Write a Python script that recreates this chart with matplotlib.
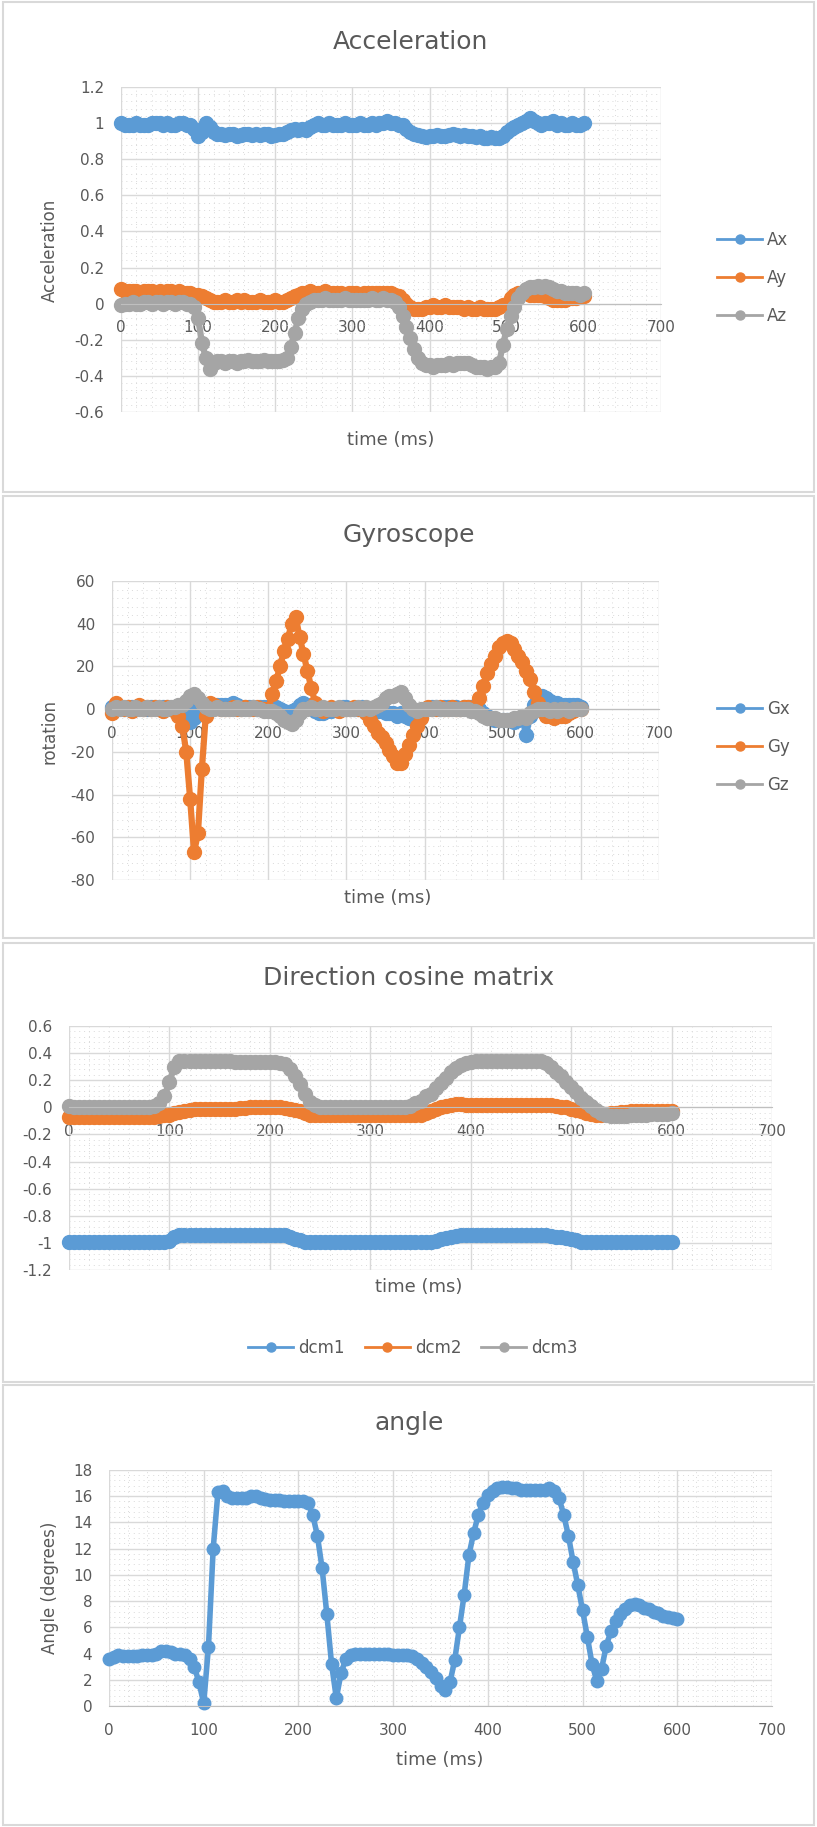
import matplotlib
matplotlib.use("Agg")
import matplotlib.pyplot as plt
from matplotlib.patches import Rectangle
from matplotlib.ticker import MultipleLocator, FuncFormatter

W, H = 817, 1827
plt.rcParams['font.family'] = ['DejaVu Sans']

# sample times, every 5 ms
time_ms = list(range(0, 601, 5))

# ---- Acceleration (rows of 10 samples = 50 ms each)
acc_x = [
    1.0, 0.99, 0.99, 0.99, 1.0, 0.99, 0.99, 0.99, 1.0, 1.0,
    1.0, 0.99, 1.0, 0.99, 0.99, 1.0, 1.0, 0.99, 0.99, 0.97,
    0.93, 0.95, 1.0, 0.98, 0.95, 0.94, 0.94, 0.935, 0.94, 0.94,
    0.93, 0.935, 0.94, 0.94, 0.935, 0.94, 0.935, 0.94, 0.94, 0.93,
    0.935, 0.94, 0.94, 0.95, 0.96, 0.97, 0.96, 0.97, 0.96, 0.98,
    0.99, 1.0, 0.99, 0.99, 1.0, 0.99, 0.99, 0.99, 1.0, 0.99,
    0.99, 0.99, 1.0, 0.99, 0.99, 1.0, 0.99, 1.0, 1.0, 1.01,
    1.0, 1.0, 0.99, 0.99, 0.97, 0.95, 0.94, 0.935, 0.93, 0.925,
    0.93, 0.93, 0.935, 0.93, 0.93, 0.935, 0.94, 0.935, 0.93, 0.935,
    0.93, 0.93, 0.925, 0.93, 0.92, 0.92, 0.925, 0.92, 0.915, 0.93,
    0.95, 0.97, 0.98, 0.99, 1.0, 1.01, 1.03, 1.01, 1.0, 0.99,
    1.0, 1.0, 1.01, 0.99, 1.0, 0.99, 0.99, 1.0, 0.99, 0.99,
    1.0]
acc_y = [
    0.08, 0.07, 0.07, 0.07, 0.07, 0.06, 0.07, 0.07, 0.07, 0.06,
    0.07, 0.06, 0.07, 0.07, 0.06, 0.07, 0.06, 0.06, 0.06, 0.05,
    0.05, 0.04, 0.03, 0.02, 0.01, 0.01, 0.01, 0.02, 0.01, 0.01,
    0.02, 0.01, 0.02, 0.01, 0.01, 0.01, 0.02, 0.01, 0.01, 0.01,
    0.02, 0.01, 0.01, 0.02, 0.03, 0.04, 0.05, 0.06, 0.06, 0.07,
    0.06, 0.06, 0.06, 0.07, 0.06, 0.06, 0.06, 0.06, 0.05, 0.06,
    0.06, 0.06, 0.05, 0.06, 0.06, 0.06, 0.06, 0.06, 0.06, 0.06,
    0.06, 0.05, 0.04, 0.02, 0.0, -0.02, -0.03, -0.03, -0.03, -0.02,
    -0.02, -0.01, -0.02, -0.02, -0.01, -0.02, -0.02, -0.02, -0.02, -0.03,
    -0.02, -0.03, -0.03, -0.02, -0.03, -0.03, -0.03, -0.03, -0.02, -0.01,
    0.0, 0.03, 0.05, 0.06, 0.06, 0.06, 0.05, 0.05, 0.05, 0.05,
    0.04, 0.03, 0.02, 0.02, 0.02, 0.02, 0.03, 0.03, 0.03, 0.04,
    0.04]
acc_z = [
    -0.01, 0.0, 0.0, 0.01, 0.0, 0.0, 0.01, 0.01, 0.0, 0.01,
    0.01, 0.0, 0.01, 0.01, 0.0, 0.01, 0.01, 0.0, 0.0, -0.02,
    -0.08, -0.22, -0.30, -0.36, -0.33, -0.32, -0.32, -0.33, -0.32, -0.32,
    -0.33, -0.32, -0.32, -0.31, -0.32, -0.32, -0.32, -0.31, -0.32, -0.32,
    -0.32, -0.32, -0.31, -0.30, -0.24, -0.16, -0.08, -0.03, 0.0, 0.01,
    0.02, 0.02, 0.02, 0.03, 0.02, 0.02, 0.02, 0.02, 0.03, 0.02,
    0.02, 0.02, 0.02, 0.02, 0.02, 0.03, 0.02, 0.02, 0.03, 0.02,
    0.02, 0.01, -0.02, -0.07, -0.13, -0.19, -0.25, -0.30, -0.33, -0.34,
    -0.34, -0.35, -0.34, -0.34, -0.34, -0.33, -0.34, -0.33, -0.33, -0.33,
    -0.33, -0.34, -0.35, -0.35, -0.35, -0.36, -0.35, -0.35, -0.33, -0.23,
    -0.14, -0.07, -0.02, 0.03, 0.06, 0.08, 0.09, 0.09, 0.10, 0.09,
    0.10, 0.09, 0.08, 0.07, 0.07, 0.06, 0.06, 0.06, 0.06, 0.05,
    0.06]

# ---- Gyroscope
gyro_x = [
    1, 2, 1, 0, 1, 1, 0, 1, 1, 0,
    1, 1, 0, 1, 1, 0, 1, 0, -1, -2,
    -6, -4, 1, 2, 2, 1, 1, 2, 2, 2,
    2, 3, 2, 1, 1, 1, 1, 0, 1, 1,
    1, 1, 1, 0, -1, -2, -1, 0, 2, 3,
    2, 1, -1, -2, -2, -1, -1, 0, 0, 1,
    1, 0, 0, 0, 1, 0, 0, 0, -1, -1,
    -2, -2, -2, -3, -2, -3, -4, -3, -2, -1,
    0, 0, 1, 1, 0, 1, 1, 1, 1, 0,
    1, 1, 1, 0, 0, -2, -3, -4, -5, -5,
    -5, -5, -5, -6, -5, -4, -12, -3, 2, 4,
    6, 5, 4, 3, 3, 2, 2, 2, 2, 2,
    1]
gyro_y = [
    -2, 3, 1, 0, 1, -1, 0, 2, 0, 1,
    0, 1, 0, -1, 1, 0, -1, -3, -8, -20,
    -42, -67, -58, -28, -3, 3, 2, 1, 0, 0,
    0, 1, 0, 0, 1, 0, 0, 1, 0, 0,
    0, 7, 13, 20, 27, 33, 40, 43, 34, 26,
    18, 10, 3, 0, -1, 0, 1, 0, -1, 0,
    0, 0, 1, 0, 0, -2, -5, -8, -11, -13,
    -16, -19, -22, -25, -25, -21, -17, -12, -8, -4,
    0, 1, 0, 0, 1, 0, 0, 1, 0, 0,
    1, 1, 0, 1, 5, 11, 17, 21, 25, 29,
    31, 32, 31, 28, 25, 22, 18, 14, 8, 3,
    -1, -3, -3, -4, -3, -3, -3, -2, -1, 0,
    0]
gyro_z = [
    0, 1, 0, 1, 0, 0, 1, 0, 0, 1,
    0, 0, 1, 0, 0, 1, 1, 2, 2, 4,
    6, 7, 5, 3, 1, 0, 0, 1, 0, 0,
    0, 0, 1, 0, 0, 0, 1, 0, 0, -1,
    -1, -1, -2, -3, -5, -6, -7, -5, -2, 0,
    0, 1, 0, 0, 1, 0, 0, 0, 1, 0,
    0, 0, 0, 1, 0, 1, 0, 1, 2, 3,
    5, 6, 6, 7, 8, 5, 2, 0, -1, 0,
    0, 0, 0, 1, 0, 0, 0, 0, 0, 0,
    0, 0, -1, -1, -2, -3, -4, -4, -4, -5,
    -5, -5, -5, -4, -4, -3, -4, -2, -1, 0,
    0, 0, -1, 0, -1, 0, 0, -1, 0, 0,
    0]

# ---- Direction cosine matrix
dcm1 = [
    -0.99, -0.99, -0.99, -0.99, -0.99, -0.99, -0.99, -0.99, -0.99, -0.99,
    -0.99, -0.99, -0.99, -0.99, -0.99, -0.99, -0.99, -0.99, -0.99, -0.99,
    -0.985, -0.96, -0.945, -0.94, -0.94, -0.94, -0.94, -0.94, -0.94, -0.94,
    -0.94, -0.94, -0.94, -0.945, -0.945, -0.945, -0.945, -0.945, -0.945, -0.945,
    -0.945, -0.945, -0.945, -0.945, -0.955, -0.97, -0.98, -0.99, -0.99, -0.99,
    -0.99, -0.99, -0.99, -0.99, -0.99, -0.99, -0.99, -0.99, -0.99, -0.99,
    -0.99, -0.99, -0.99, -0.99, -0.99, -0.99, -0.99, -0.99, -0.99, -0.99,
    -0.99, -0.99, -0.99, -0.985, -0.975, -0.965, -0.955, -0.95, -0.945, -0.94,
    -0.94, -0.94, -0.94, -0.94, -0.94, -0.94, -0.94, -0.94, -0.94, -0.94,
    -0.94, -0.94, -0.94, -0.94, -0.94, -0.945, -0.95, -0.955, -0.96, -0.965,
    -0.975, -0.98, -0.99, -0.99, -0.99, -0.99, -0.99, -0.99, -0.99, -0.99,
    -0.99, -0.99, -0.99, -0.99, -0.99, -0.99, -0.99, -0.99, -0.99, -0.99,
    -0.99]
dcm2 = [
    -0.07, -0.07, -0.07, -0.07, -0.07, -0.07, -0.07, -0.07, -0.07, -0.07,
    -0.07, -0.07, -0.07, -0.07, -0.07, -0.07, -0.07, -0.07, -0.065, -0.06,
    -0.055, -0.045, -0.035, -0.025, -0.02, -0.015, -0.015, -0.01, -0.01, -0.01,
    -0.01, -0.01, -0.01, -0.01, -0.005, -0.005, 0.0, 0.0, 0.0, 0.0,
    0.0, 0.0, 0.0, -0.005, -0.01, -0.02, -0.03, -0.045, -0.055, -0.06,
    -0.06, -0.06, -0.06, -0.06, -0.06, -0.06, -0.06, -0.06, -0.06, -0.06,
    -0.06, -0.06, -0.06, -0.06, -0.06, -0.06, -0.06, -0.06, -0.06, -0.06,
    -0.055, -0.045, -0.03, -0.015, 0.0, 0.01, 0.02, 0.025, 0.025, 0.02,
    0.02, 0.02, 0.02, 0.02, 0.02, 0.02, 0.02, 0.02, 0.02, 0.02,
    0.02, 0.02, 0.02, 0.02, 0.02, 0.02, 0.015, 0.01, 0.005, 0.0,
    -0.01, -0.02, -0.03, -0.04, -0.05, -0.055, -0.06, -0.05, -0.045, -0.04,
    -0.035, -0.035, -0.03, -0.03, -0.03, -0.03, -0.03, -0.03, -0.03, -0.03,
    -0.03]
dcm3 = [
    0.01, 0.0, 0.0, 0.0, 0.0, 0.0, 0.0, 0.0, 0.0, 0.0,
    0.0, 0.0, 0.0, 0.0, 0.0, 0.0, 0.0, 0.01, 0.03, 0.08,
    0.19, 0.30, 0.34, 0.345, 0.345, 0.34, 0.34, 0.34, 0.34, 0.34,
    0.34, 0.34, 0.34, 0.335, 0.335, 0.335, 0.335, 0.335, 0.335, 0.335,
    0.335, 0.335, 0.33, 0.32, 0.28, 0.23, 0.17, 0.10, 0.04, 0.015,
    0.005, 0.0, 0.0, 0.0, 0.0, 0.0, 0.0, 0.0, 0.0, 0.0,
    0.0, 0.0, 0.0, 0.0, 0.0, 0.0, 0.0, 0.005, 0.01, 0.03,
    0.05, 0.08, 0.10, 0.14, 0.18, 0.22, 0.26, 0.29, 0.31, 0.325,
    0.335, 0.34, 0.345, 0.345, 0.345, 0.345, 0.345, 0.345, 0.345, 0.345,
    0.345, 0.345, 0.345, 0.345, 0.34, 0.33, 0.30, 0.26, 0.23, 0.19,
    0.15, 0.11, 0.07, 0.04, 0.01, -0.02, -0.04, -0.055, -0.065, -0.065,
    -0.065, -0.065, -0.06, -0.06, -0.055, -0.055, -0.05, -0.05, -0.05, -0.05,
    -0.045]

# ---- Angle
angle_deg = [
    3.6, 3.7, 3.9, 3.8, 3.8, 3.8, 3.8, 3.9, 3.9, 3.9,
    4.0, 4.2, 4.2, 4.1, 4.0, 4.0, 3.9, 3.6, 3.0, 1.8,
    0.2, 4.5, 12.0, 16.3, 16.4, 16.0, 15.9, 15.9, 15.9, 15.9,
    16.0, 16.0, 15.9, 15.8, 15.7, 15.7, 15.7, 15.6, 15.6, 15.6,
    15.6, 15.6, 15.5, 14.6, 13.0, 10.5, 7.0, 3.2, 0.6, 2.5,
    3.6, 3.9, 4.0, 4.0, 4.0, 4.0, 4.0, 4.0, 4.0, 4.0,
    3.9, 3.9, 3.9, 3.9, 3.8, 3.6, 3.3, 3.0, 2.6, 2.1,
    1.5, 1.2, 1.8, 3.5, 6.0, 8.5, 11.5, 13.2, 14.6, 15.5,
    16.1, 16.4, 16.6, 16.7, 16.7, 16.6, 16.6, 16.5, 16.5, 16.5,
    16.5, 16.5, 16.5, 16.6, 16.4, 15.9, 14.6, 13.0, 11.0, 9.2,
    7.3, 5.3, 3.2, 1.9, 2.8, 4.6, 5.7, 6.5, 7.0, 7.4,
    7.7, 7.8, 7.7, 7.5, 7.4, 7.2, 7.1, 6.9, 6.8, 6.7,
    6.6]

BLUE, ORANGE, GRAY = '#5B9BD5', '#ED7D31', '#A5A5A5'
TXT = '#595959'

fig = plt.figure(figsize=(W / 100, H / 100), dpi=100)


def box(x0, y0, x1, y1):
    return [x0 / W, 1 - y1 / H, (x1 - x0) / W, (y1 - y0) / H]


def style(ax, ylo, yhi, ystep):
    ax.set_xlim(0, 700)
    ax.set_ylim(ylo, yhi)
    ax.xaxis.set_major_locator(MultipleLocator(100))
    ax.xaxis.set_minor_locator(MultipleLocator(20))
    ax.yaxis.set_major_locator(MultipleLocator(ystep))
    ax.yaxis.set_minor_locator(MultipleLocator(ystep / 5))
    ax.yaxis.set_major_formatter(FuncFormatter(lambda v, p: '%g' % round(v, 6)))
    ax.grid(which='major', color='#d9d9d9', lw=1)
    ax.grid(which='minor', color='#d9d9d9', lw=0.7, ls=(0, (1, 4)))
    ax.set_axisbelow(True)
    for s in ['top', 'right', 'left']:
        ax.spines[s].set_visible(False)
    ax.spines['bottom'].set_position(('data', 0))
    ax.spines['bottom'].set_color('#bfbfbf')
    ax.tick_params(which='both', length=0, labelsize=11, colors=TXT, pad=12)


def series(ax, y, c, label, ms=10, lw=4.5):
    ax.plot(time_ms, y, '-o', color=c, ms=ms, lw=lw, label=label, clip_on=False)


def frame(y0, y1):
    fig.add_artist(Rectangle((3 / W, 1 - y1 / H), 811 / W, (y1 - y0) / H,
                             transform=fig.transFigure, fill=False,
                             ec='#d9d9d9', lw=1.5))


def text(x, y, s, size, rot=0):
    fig.text(x / W, 1 - y / H, s, ha='center', va='center', fontsize=size,
             color=TXT, rotation=rot)


def legend(ax, x, y, **kw):
    leg = ax.legend(bbox_to_anchor=(x / W, 1 - y / H), bbox_transform=fig.transFigure,
                    frameon=False, fontsize=12, handlelength=2.7, borderpad=0,
                    borderaxespad=0, handletextpad=0.3, labelcolor=TXT,
                    markerscale=0.65, **kw)
    for h in leg.legend_handles:
        h.set_linewidth(2)


# panel 1
frame(2, 492)
ax1 = fig.add_axes(box(121, 87, 661, 412))
style(ax1, -0.6, 1.2, 0.2)
series(ax1, acc_x, BLUE, 'Ax')
series(ax1, acc_y, ORANGE, 'Ay')
series(ax1, acc_z, GRAY, 'Az')
text(410, 42, 'Acceleration', 18)
text(50, 250, 'Acceleration', 12, 90)
text(391, 440, 'time (ms)', 13)
legend(ax1, 717, 278, loc='center left', labelspacing=1.2)

# panel 2
frame(496, 938)
ax2 = fig.add_axes(box(112, 581, 659, 880))
style(ax2, -80, 60, 20)
series(ax2, gyro_x, BLUE, 'Gx')
series(ax2, gyro_y, ORANGE, 'Gy')
series(ax2, gyro_z, GRAY, 'Gz')
text(409, 535, 'Gyroscope', 18)
text(50, 732, 'rotation', 12, 90)
text(388, 898, 'time (ms)', 13)
legend(ax2, 717, 747, loc='center left', labelspacing=1.2)

# panel 3
frame(943, 1382)
ax3 = fig.add_axes(box(69, 1026, 772, 1270))
style(ax3, -1.2, 0.6, 0.2)
series(ax3, dcm1, BLUE, 'dcm1')
series(ax3, dcm2, ORANGE, 'dcm2')
series(ax3, dcm3, GRAY, 'dcm3')
text(409, 978, 'Direction cosine matrix', 18)
text(419, 1287, 'time (ms)', 13)
legend(ax3, 413, 1348, loc='center', ncol=3, columnspacing=1.2)

# panel 4
frame(1385, 1825)
ax4 = fig.add_axes(box(109, 1470, 772, 1706))
style(ax4, 0, 18, 2)
series(ax4, angle_deg, BLUE, 'angle', ms=9, lw=4)
text(409, 1423, 'angle', 18)
text(50, 1588, 'Angle (degrees)', 12, 90)
text(440, 1760, 'time (ms)', 13)

fig.savefig('out.png', dpi=100)
